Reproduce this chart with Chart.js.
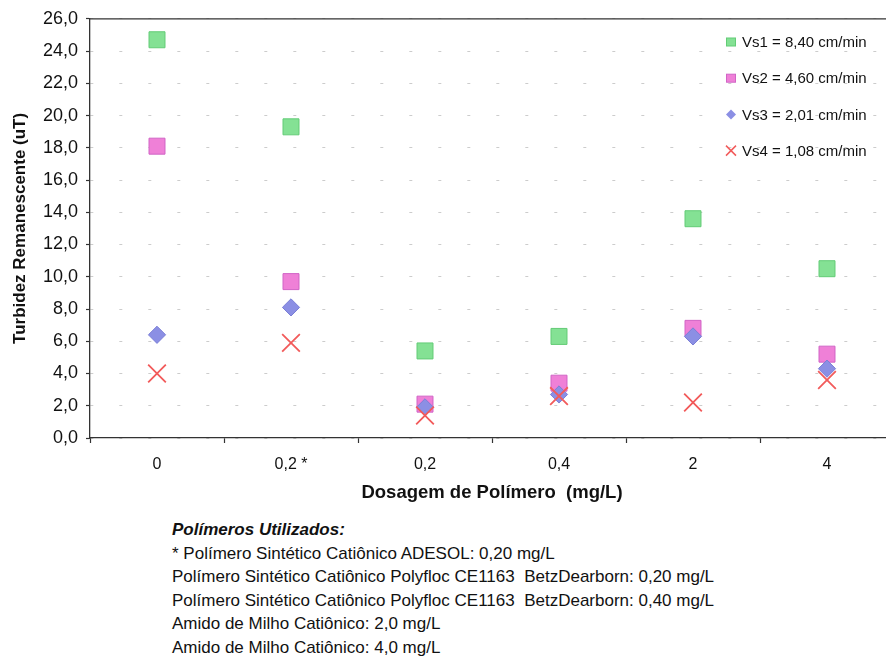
<!DOCTYPE html>
<html lang="pt">
<head>
<meta charset="utf-8">
<title>Turbidez Remanescente x Dosagem de Polímero</title>
<script src="https://cdn.jsdelivr.net/npm/chart.js@4/dist/chart.umd.min.js"></script>
<style>
  html, body { margin: 0; padding: 0; background: #ffffff; }
  #wrap { position: relative; width: 886px; height: 659px; overflow: hidden; }
  #plot { position: absolute; left: 0; top: 0; width: 900px; height: 510px; }
  #notes {
    position: absolute; left: 172px; top: 518px;
    font-family: "Liberation Sans", Arial, sans-serif;
    font-size: 17px; line-height: 23.6px; color: #111; white-space: pre;
  }
  #notes .head { font-weight: bold; font-style: italic; font-size: 17px; }
</style>
</head>
<body>
<div id="wrap">
  <canvas id="plot" width="900" height="510"></canvas>
  <div id="notes"><div class="head">Polímeros Utilizados:</div><div>* Polímero Sintético Catiônico ADESOL: 0,20 mg/L</div><div>Polímero Sintético Catiônico Polyfloc CE1163  BetzDearborn: 0,20 mg/L</div><div>Polímero Sintético Catiônico Polyfloc CE1163  BetzDearborn: 0,40 mg/L</div><div>Amido de Milho Catiônico: 2,0 mg/L</div><div>Amido de Milho Catiônico: 4,0 mg/L</div></div>
</div>
<script>
// Polymer dosage categories (mg/L)
const dosages = ['0', '0,2 *', '0,2', '0,4', '2', '4'];

// Remaining turbidity (uT) for each settling velocity
const vs1 = [24.7, 19.3, 5.4, 6.3, 13.6, 10.5];
const vs2 = [18.1, 9.7, 2.1, 3.4, 6.8, 5.2];
const vs3 = [6.4, 8.1, 1.9, 2.7, 6.3, 4.3];
const vs4 = [4.0, 5.9, 1.4, 2.6, 2.2, 3.6];

const seriesNames = ['Vs1 = 8,40 cm/min', 'Vs2 = 4,60 cm/min', 'Vs3 = 2,01 cm/min', 'Vs4 = 1,08 cm/min'];

// Y axis range and step
const yMin = 0, yMax = 26, yStep = 2;

const fmt = v => v.toFixed(1).replace('.', ',');

const styles = [
  { pointStyle: 'rect',     radius: 11.3, fill: '#84e194', stroke: '#63cc76', width: 1 },
  { pointStyle: 'rect',     radius: 11.3, fill: '#ef80d7', stroke: '#d164c6', width: 1 },
  { pointStyle: 'rectRot',  radius: 8.6,  fill: '#8b8fe4', stroke: '#7a7ed6', width: 1 },
  { pointStyle: 'crossRot', radius: 12.5, fill: '#f25b5b', stroke: '#f25b5b', width: 1.8 }
];

const values = [vs1, vs2, vs3, vs4];
const datasets = values.map((data, i) => ({
  label: seriesNames[i],
  data: data,
  showLine: false,
  order: 3 - i,
  pointStyle: styles[i].pointStyle,
  pointRadius: styles[i].radius,
  pointHoverRadius: styles[i].radius,
  pointBackgroundColor: styles[i].fill,
  pointBorderColor: styles[i].stroke,
  pointBorderWidth: styles[i].width,
  backgroundColor: styles[i].fill,
  borderColor: styles[i].stroke
}));

// Frame line along the top of the plot and legend inside the plot area
const framePlugin = {
  id: 'frameAndLegend',
  afterDatasetsDraw(chart) {
    const { ctx, chartArea } = chart;
    ctx.save();
    ctx.strokeStyle = '#333';
    ctx.lineWidth = 1.3;
    ctx.beginPath();
    ctx.moveTo(chartArea.left, chartArea.top);
    ctx.lineTo(chartArea.right, chartArea.top);
    ctx.stroke();

    const lx = 731, ly0 = 42, dy = 36.2;
    ctx.font = '15px "Liberation Sans", Arial, sans-serif';
    ctx.textBaseline = 'middle';
    ctx.textAlign = 'left';
    seriesNames.forEach((name, i) => {
      const y = ly0 + i * dy;
      const s = styles[i];
      ctx.fillStyle = s.fill;
      ctx.strokeStyle = s.stroke;
      ctx.lineWidth = 1;
      if (s.pointStyle === 'rect') {
        ctx.fillRect(lx - 4.5, y - 4, 9, 8);
        ctx.strokeRect(lx - 4.5, y - 4, 9, 8);
      } else if (s.pointStyle === 'rectRot') {
        ctx.beginPath();
        ctx.moveTo(lx - 5, y); ctx.lineTo(lx, y - 5); ctx.lineTo(lx + 5, y); ctx.lineTo(lx, y + 5);
        ctx.closePath(); ctx.fill();
      } else {
        ctx.lineWidth = 1.5;
        ctx.beginPath();
        ctx.moveTo(lx - 5, y - 5); ctx.lineTo(lx + 5, y + 5);
        ctx.moveTo(lx + 5, y - 5); ctx.lineTo(lx - 5, y + 5);
        ctx.stroke();
      }
      ctx.fillStyle = '#111';
      ctx.fillText(name, lx + 11, y + 1);
    });
    ctx.restore();
  }
};

new Chart(document.getElementById('plot'), {
  type: 'line',
  data: { labels: dosages, datasets: datasets },
  plugins: [framePlugin],
  options: {
    responsive: false,
    animation: false,
    events: [],
    layout: { autoPadding: false, padding: { left: 0, top: 16, right: 6, bottom: 0 } },
    plugins: { legend: { display: false }, tooltip: { enabled: false } },
    scales: {
      x: {
        type: 'category',
        offset: true,
        grid: { offset: true, drawOnChartArea: false, drawTicks: true, tickLength: 5, tickColor: '#333', tickWidth: 1.2 },
        border: { display: true, color: '#333', width: 1.3 },
        ticks: { color: '#111', padding: 12, font: { family: '"Liberation Sans", Arial, sans-serif', size: 16 } },
        title: {
          display: true, text: 'Dosagem de Polímero  (mg/L)', color: '#111',
          font: { family: '"Liberation Sans", Arial, sans-serif', size: 18.5, weight: 'bold' },
          padding: { top: 6, bottom: 6 }
        },
        afterFit: s => { s.height = 72; }
      },
      y: {
        min: yMin, max: yMax,
        grid: { color: 'rgba(0,0,0,0.2)', lineWidth: 1, drawTicks: true, tickLength: 4, tickColor: '#333', tickWidth: 1.2, tickBorderDash: [] },
        border: { display: true, color: '#333', width: 1.3, dash: [3, 26] },
        ticks: {
          stepSize: yStep, color: '#111', padding: 8,
          font: { family: '"Liberation Sans", Arial, sans-serif', size: 18 },
          callback: v => fmt(v)
        },
        title: {
          display: true, text: 'Turbidez Remanescente (uT)', color: '#111',
          font: { family: '"Liberation Sans", Arial, sans-serif', size: 17, weight: 'bold' },
          padding: { top: 10, bottom: 10 }
        },
        afterFit: s => { s.width = 90; }
      }
    }
  }
});
</script>
</body>
</html>
